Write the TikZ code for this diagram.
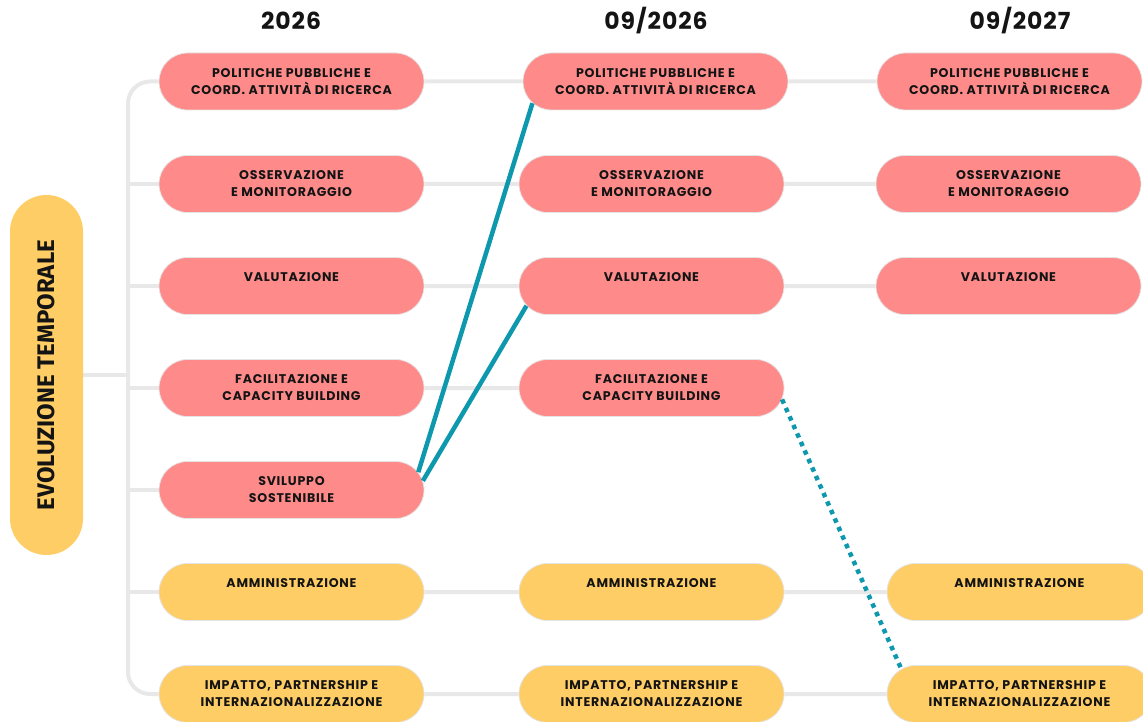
\documentclass[tikz,border=0pt]{standalone}
\usepackage{fontspec}
\setmainfont{Poppins}
\newfontfamily\boxfont{Poppins}[LetterSpace=6]
\newfontfamily\yearfont{Poppins}[LetterSpace=4]
\newfontfamily\titlefont{Fira Sans}
\usetikzlibrary{shapes.misc,backgrounds}
\definecolor{pinkfill}{HTML}{FF8A8A}
\definecolor{yelfill}{HTML}{FFCD66}
\definecolor{edgegray}{HTML}{E4E4E4}
\definecolor{linegray}{HTML}{E8E8E8}
\definecolor{tealc}{HTML}{0E98AE}
\definecolor{inkc}{HTML}{141414}
\tikzset{
  box/.style={rounded rectangle, minimum width=265pt, minimum height=57pt,
    draw=edgegray, line width=0.8pt, align=center, inner sep=0pt, text=inkc,
    font=\boxfont\fontsize{12.6}{17}\selectfont\bfseries},
  pinkbox/.style={box, fill=pinkfill},
  yelbox/.style={box, fill=yelfill},
  link/.style={draw=linegray, line width=4pt},
  tealline/.style={draw=tealc, line width=4.5pt},
  dotline/.style={draw=tealc, line width=4.5pt, dash pattern=on 4.5pt off 4.8pt},
  yearlabel/.style={font=\yearfont\fontsize{23.5}{26}\selectfont\bfseries, text=inkc}
}
\begin{document}
\begin{tikzpicture}[x=1pt,y=-1pt]
\useasboundingbox (0,0) rectangle (1143,722);

% column headings
\node[yearlabel] (h1) at (291,21) {2026};
\node[yearlabel] (h2) at (656,21) {09/2026};
\node[yearlabel] (h3) at (1020,21) {09/2027};

% vertical title pill
\node[fill=yelfill, rounded corners=36.5pt, minimum width=73pt, minimum height=360pt, inner sep=0pt,
      font=\titlefont\fontsize{24}{28}\selectfont\bfseries, text=inkc] (evo) at (46.5,375)
      {\rotatebox{90}{EVOLUZIONE TEMPORALE}};

% first column
\node[pinkbox] (a1) at (291.5,81.5) {POLITICHE PUBBLICHE E\\COORD. ATTIVITÀ DI RICERCA};
\node[pinkbox] (a2) at (291.5,184) {OSSERVAZIONE\\E MONITORAGGIO};
\node[pinkbox] (a3) at (291.5,286) {VALUTAZIONE\\\mbox{}};
\node[pinkbox] (a4) at (291.5,388) {FACILITAZIONE E\\CAPACITY BUILDING};
\node[pinkbox] (a5) at (291.5,490) {SVILUPPO\\SOSTENIBILE};
\node[yelbox]  (a6) at (291.5,592) {AMMINISTRAZIONE\\\mbox{}};
\node[yelbox]  (a7) at (291.5,694) {IMPATTO, PARTNERSHIP E\\INTERNAZIONALIZZAZIONE};

% second column
\node[pinkbox] (b1) at (655.5,81.5) {POLITICHE PUBBLICHE E\\COORD. ATTIVITÀ DI RICERCA};
\node[pinkbox] (b2) at (651.5,184) {OSSERVAZIONE\\E MONITORAGGIO};
\node[pinkbox] (b3) at (651.5,286) {VALUTAZIONE\\\mbox{}};
\node[pinkbox] (b4) at (651.5,388) {FACILITAZIONE E\\CAPACITY BUILDING};
\node[yelbox]  (b6) at (651.5,592) {AMMINISTRAZIONE\\\mbox{}};
\node[yelbox]  (b7) at (651.5,694) {IMPATTO, PARTNERSHIP E\\INTERNAZIONALIZZAZIONE};

% third column
\node[pinkbox] (c1) at (1009.5,81.5) {POLITICHE PUBBLICHE E\\COORD. ATTIVITÀ DI RICERCA};
\node[pinkbox] (c2) at (1008.5,184) {OSSERVAZIONE\\E MONITORAGGIO};
\node[pinkbox] (c3) at (1008.5,286) {VALUTAZIONE\\\mbox{}};
\node[yelbox]  (c6) at (1019.5,592) {AMMINISTRAZIONE\\\mbox{}};
\node[yelbox]  (c7) at (1019.5,694) {IMPATTO, PARTNERSHIP E\\INTERNAZIONALIZZAZIONE};

% trunk position of the grey tree
\coordinate (tk) at (128,375);

\begin{scope}[on background layer]
  % tree from the title to the first column
  \draw[link] (evo.east) -- (tk);
  \draw[link, rounded corners=22pt] (a1.west) -- (a1.west -| tk) -- (a7.west -| tk) -- (a7.west);
  \foreach \n in {a2,a3,a4,a5,a6}
    \draw[link] (\n.west -| tk) -- (\n.west);
  % rows across the columns
  \draw[link] (a1) -- (b1) -- (c1);
  \draw[link] (a2) -- (b2) -- (c2);
  \draw[link] (a3) -- (b3) -- (c3);
  \draw[link] (a4) -- (b4);
  \draw[link] (a6) -- (b6) -- (c6);
  \draw[link] (a7) -- (b7) -- (c7);
\end{scope}

% cross links
\draw[tealline] (a5.8) -- (b1.190);
\draw[tealline] (a5.4) -- (b3.189);
\draw[dotline] (b4.-5) -- (c7.168);
\end{tikzpicture}
\end{document}
